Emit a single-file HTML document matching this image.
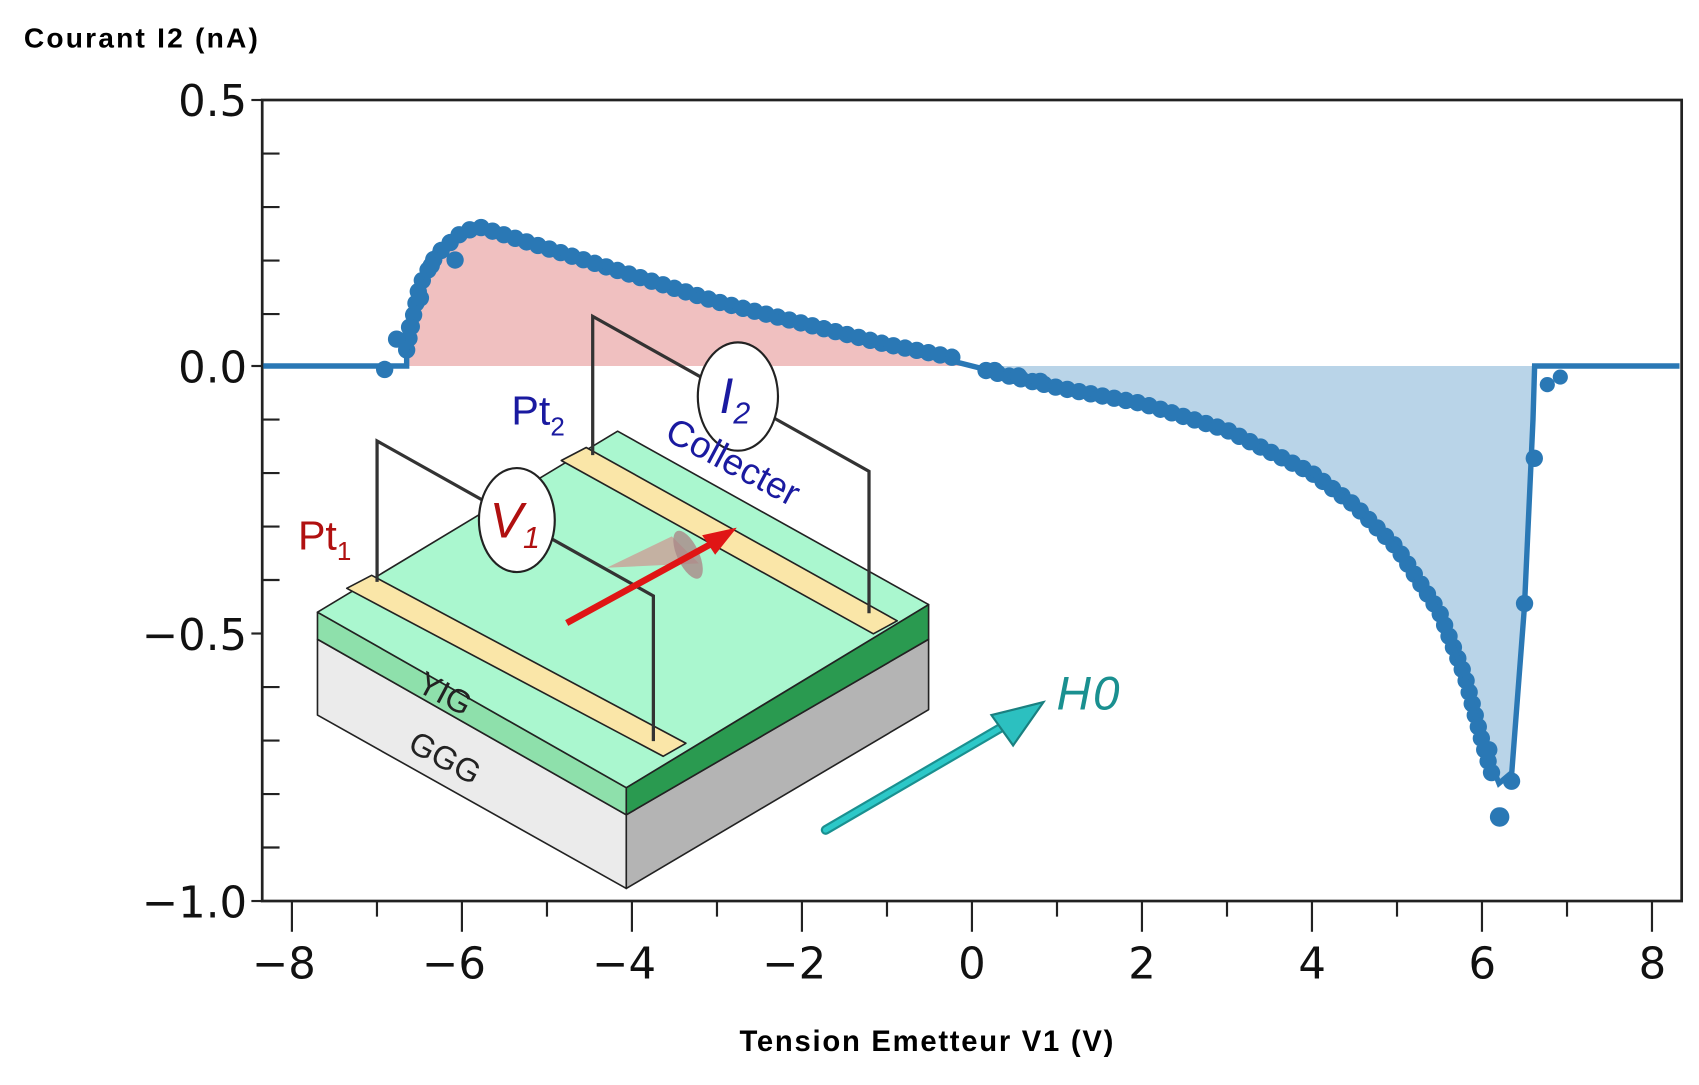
<!DOCTYPE html>
<html><head><meta charset="utf-8"><style>
html,body{margin:0;padding:0;background:#fff;}
svg{display:block;}
</style></head><body>
<svg width="1699" height="1085" viewBox="0 0 1568 1001.4" preserveAspectRatio="none" xmlns="http://www.w3.org/2000/svg" font-family="'DejaVu Sans','Liberation Sans',sans-serif">
<rect width="1568" height="1002" fill="#fff"/>
<path d="M375.3,337.8 L375.3,323 L387.1,263.7 L402.8,229.2 L426.3,214.4 L442,209.4 L504.8,229.2 L583.2,253.8 L661.7,278.5 L740.1,298.3 L818.6,318 L897,337.8 Z" fill="#f0c0c0"/>
<path d="M897,337.8 L975.5,357.6 L1053.9,372.4 L1132.4,397 L1210.8,436.6 L1250,466.2 L1289.3,505.7 L1328.5,565 L1352,624.2 L1367.7,683.5 L1383.4,723 L1395.2,713.1 L1406.9,560 L1414.8,387.2 L1416.3,337.8 Z" fill="#b9d4e8"/>
<rect x="242" y="92.3" width="1310" height="739.3" fill="none" stroke="#222" stroke-width="2.5"/>
<g stroke="#222" stroke-width="2">
<line x1="232" y1="92.3" x2="242" y2="92.3"/><line x1="232" y1="337.8" x2="242" y2="337.8"/><line x1="232" y1="584.7" x2="242" y2="584.7"/><line x1="232" y1="831.6" x2="242" y2="831.6"/>
<line x1="242" y1="141.7" x2="258" y2="141.7"/><line x1="242" y1="191.1" x2="258" y2="191.1"/><line x1="242" y1="240.5" x2="258" y2="240.5"/><line x1="242" y1="289.9" x2="258" y2="289.9"/>
<line x1="242" y1="387.2" x2="258" y2="387.2"/><line x1="242" y1="436.6" x2="258" y2="436.6"/><line x1="242" y1="486" x2="258" y2="486"/><line x1="242" y1="535.3" x2="258" y2="535.3"/>
<line x1="242" y1="634.1" x2="258" y2="634.1"/><line x1="242" y1="683.5" x2="258" y2="683.5"/><line x1="242" y1="732.9" x2="258" y2="732.9"/><line x1="242" y1="782.2" x2="258" y2="782.2"/>
<line x1="269.4" y1="831.6" x2="269.4" y2="860"/><line x1="426.3" y1="831.6" x2="426.3" y2="860"/><line x1="583.2" y1="831.6" x2="583.2" y2="860"/><line x1="740.1" y1="831.6" x2="740.1" y2="860"/><line x1="897" y1="831.6" x2="897" y2="860"/><line x1="1053.9" y1="831.6" x2="1053.9" y2="860"/><line x1="1210.8" y1="831.6" x2="1210.8" y2="860"/><line x1="1367.7" y1="831.6" x2="1367.7" y2="860"/><line x1="1524.6" y1="831.6" x2="1524.6" y2="860"/>
<line x1="347.9" y1="831.6" x2="347.9" y2="846"/><line x1="504.8" y1="831.6" x2="504.8" y2="846"/><line x1="661.7" y1="831.6" x2="661.7" y2="846"/><line x1="818.6" y1="831.6" x2="818.6" y2="846"/><line x1="975.5" y1="831.6" x2="975.5" y2="846"/><line x1="1132.4" y1="831.6" x2="1132.4" y2="846"/><line x1="1289.3" y1="831.6" x2="1289.3" y2="846"/><line x1="1446.2" y1="831.6" x2="1446.2" y2="846"/>
</g>
<g font-size="40" fill="#111" text-anchor="end">
<text x="228" y="107">0.5</text><text x="228" y="353">0.0</text><text x="228" y="600">−0.5</text><text x="228" y="847">−1.0</text>
</g>
<g font-size="40" fill="#111" text-anchor="middle">
<text x="262" y="903">−8</text><text x="419" y="903">−6</text><text x="576" y="903">−4</text><text x="733" y="903">−2</text><text x="897" y="903">0</text><text x="1054" y="903">2</text><text x="1211" y="903">4</text><text x="1368" y="903">6</text><text x="1525" y="903">8</text>
</g>
<text x="22" y="44" font-family="'Liberation Sans',sans-serif" font-weight="bold" font-size="26" fill="#000" textLength="216">Courant I2 (nA)</text>
<text x="855" y="970" font-family="'Liberation Sans',sans-serif" font-weight="bold" font-size="27" fill="#000" text-anchor="middle" textLength="345">Tension Emetteur V1 (V)</text>
<path d="M375.3,323 L387.1,263.7 L402.8,235 L426.3,214.4 L442,209.4 L504.8,229.2 L583.2,253.8 L661.7,278.5 L740.1,298.3 L818.6,318 L880,330 M910,342 L975.5,357.6 L1053.9,372.4 L1132.4,397 L1210.8,436.6 L1250,466.2 L1289.3,505.7 L1328.5,565 L1352,624.2 L1367.7,683.5 L1378,718" fill="none" stroke="#2a78b5" stroke-width="16" stroke-linecap="round" stroke-linejoin="round" stroke-dasharray="0 11"/>
<path d="M243,337.8 L375.3,337.8 L375.3,323 L381,285 L387.1,260 L402.8,229.2 L426.3,216 L442,211 L504.8,229.2 L583.2,253.8 L661.7,278.5 L740.1,298.3 L818.6,318 L897,337.8 L975.5,357.6 L1053.9,372.4 L1132.4,397 L1210.8,436.6 L1250,466.2 L1289.3,505.7 L1328.5,565 L1352,624.2 L1367.7,683.5 L1383.4,723 L1395.2,713.1 L1406.9,560 L1414.8,387.2 L1416.3,337.8 L1550,337.8" fill="none" stroke="#2a78b5" stroke-width="5"/>
<g fill="#2a78b5">
<circle cx="355" cy="341" r="8"/><circle cx="366" cy="313" r="8"/><circle cx="378" cy="302" r="8"/><circle cx="388" cy="275" r="8"/><circle cx="398" cy="245" r="8"/><circle cx="420" cy="240" r="8"/>
<circle cx="1384" cy="754" r="9"/><circle cx="1395" cy="721" r="8"/><circle cx="1374" cy="692" r="8"/><circle cx="1407" cy="557" r="8"/><circle cx="1416" cy="423" r="8"/><circle cx="1428" cy="355" r="7"/><circle cx="1440" cy="348" r="7"/>
<circle cx="918" cy="342" r="8"/><circle cx="940" cy="347" r="8"/><circle cx="960" cy="352" r="8"/>
</g>
<g stroke="#222" stroke-width="1.5" stroke-linejoin="round">
<polygon points="293,590 578,752 578,820 293,660" fill="#ebebeb"/>
<polygon points="578,752 857,590 857,655 578,820" fill="#b4b4b4"/>
<polygon points="293,565 578,727 578,752 293,590" fill="#8ee0ab"/>
<polygon points="578,727 857,558 857,590 578,752" fill="#2a9a50"/>
<polygon points="293,565 570,398 857,558 578,727" fill="#aaf7cf"/>
<polygon points="320,543 343,531 633,686 612,698" fill="#fae6a8"/>
<polygon points="518,425 541,413 828,573 806,585" fill="#fae6a8"/>
</g>
<g fill="none" stroke="#333" stroke-width="3">
<polyline points="348,537 348,407 603,550 603,684"/>
<polyline points="547,420 547,292 802,435 802,566"/>
</g>
<ellipse cx="477" cy="480" rx="35" ry="48" fill="#fff" stroke="#222" stroke-width="2"/>
<ellipse cx="681" cy="366" rx="37" ry="50" fill="#fff" stroke="#222" stroke-width="2"/>
<text x="452" y="496" font-size="46" font-style="italic" fill="#b01010" font-family="'Liberation Sans',sans-serif">V<tspan font-size="28" dy="10">1</tspan></text>
<text x="664" y="381" font-size="46" font-style="italic" fill="#1a1aa0" font-family="'Liberation Sans',sans-serif">I<tspan font-size="28" dy="10">2</tspan></text>
<text x="275" y="507" font-size="38" fill="#b01010" font-family="'Liberation Sans',sans-serif">Pt<tspan font-size="24" dy="10">1</tspan></text>
<text x="472" y="392" font-size="38" fill="#1a1aa0" font-family="'Liberation Sans',sans-serif">Pt<tspan font-size="24" dy="10">2</tspan></text>
<text x="612" y="405" font-size="34" fill="#1a1aa0" font-family="'Liberation Sans',sans-serif" transform="rotate(28 612 405)">Collecter</text>
<text x="383" y="637" font-size="30" fill="#222" font-family="'Liberation Sans',sans-serif" transform="rotate(28 383 637)">YIG</text>
<text x="375" y="692" font-size="30" fill="#222" font-family="'Liberation Sans',sans-serif" transform="rotate(28 375 692)">GGG</text>
<polygon points="560,524 645,520 620,495" fill="#c9a59a" opacity="0.85"/>
<ellipse cx="635" cy="512" rx="10" ry="24" fill="#a88" transform="rotate(-25 635 512)" opacity="0.8"/>
<line x1="523" y1="575" x2="660" y2="500" stroke="#e01515" stroke-width="6"/>
<polygon points="680,487 648,494 660,512" fill="#e01515"/>
<line x1="762" y1="766" x2="930" y2="668" stroke="#1a9090" stroke-width="9" stroke-linecap="round"/>
<line x1="762" y1="766" x2="930" y2="668" stroke="#2cc8c8" stroke-width="5" stroke-linecap="round"/>
<polygon points="963,648 915,660 935,688" fill="#2cc0c0" stroke="#1a8080" stroke-width="2"/>
<text x="975" y="655" font-size="44" font-style="italic" fill="#1a9090" font-family="'Liberation Sans',sans-serif">H<tspan font-size="44" dx="2">0</tspan></text>
</svg>
</body></html>
